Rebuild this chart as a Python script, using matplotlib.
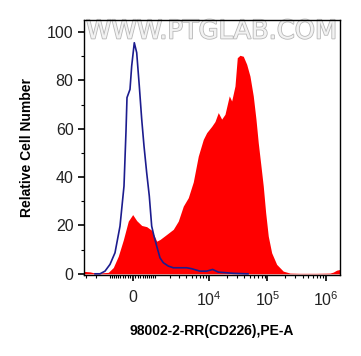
import numpy as np
import matplotlib
matplotlib.use("Agg")
import matplotlib.pyplot as plt
import matplotlib.patheffects as pe

plt.rcParams["font.family"] = ["Liberation Sans", "DejaVu Sans"]
plt.rcParams["mathtext.fontset"] = "custom"
plt.rcParams["mathtext.rm"] = "Liberation Sans"

# ===== data (x in display channels 0..256, y in % of max) =====
red_x = [0, 6, 12, 24.3, 29.3, 34.3, 39.3, 44.3, 48.7, 52.7, 57.7, 62.7, 67.7,
         72.7, 76, 82.7, 89.3, 94.3, 99.3, 104.3, 109.3, 114.3, 119.3, 122.7,
         127.7, 131, 134.3, 137.7, 141, 145.3, 147.7, 151, 153.3, 156, 159.3,
         162.7, 166, 169.3, 172, 174.3, 177, 179.3, 181.7, 184.3, 187.7, 192.7,
         199.3, 206, 216, 232.7, 246, 249.3, 252.7, 256]
red_y = [1.0, 0.8, 0.2, 0.6, 2.6, 7.3, 14.0, 21.8, 24.5, 22.0, 20.0, 19.5, 18.0,
         13.5, 14.2, 16.3, 18.4, 21.8, 28.0, 31.5, 38.0, 48.7, 55.6, 58.4,
         61.0, 63.0, 66.7, 64.0, 66.0, 73.6, 71.5, 77.7, 89.4, 90.4, 90.0,
         86.7, 81.8, 73.6, 64.0, 54.2, 44.6, 36.3, 25.3, 15.6, 8.7, 3.9,
         1.1, 0.3, 0.2, 0.2, 0.3, 0.7, 1.5, 1.8]

blue_x = [11, 16, 21, 26, 31, 36, 40, 42, 43, 46, 47.7, 50.3, 52.7, 55.3, 57.7,
          60, 62.7, 65.3, 67.7, 70, 72.7, 76, 79.3, 84.3, 89.3, 96, 102.7,
          107.7, 116, 122.7, 128.7, 134.3, 149.3, 162.7, 164]
blue_y = [0.0, 0.0, 1.1, 3.9, 8.7, 19.7, 36.3, 59.0, 72.9, 76.3, 86.0, 95.6,
          91.5, 77.7, 64.0, 52.9, 41.8, 32.2, 19.7, 15.6, 11.5, 6.6, 4.6, 3.2,
          2.5, 2.5, 2.5, 2.1, 1.1, 1.1, 1.8, 0.7, 0.2, 0.0, 0.0]

major_vals = [0, 1e4, 1e5, 1e6]
major_labels = ["0", r"$\mathregular{10^4}$", r"$\mathregular{10^5}$", r"$\mathregular{10^6}$"]
minor_vals = ([-k * 1000 for k in (1, 2, 3)] + [-k * 100 for k in range(1, 10)] +
              [k * 100 for k in range(1, 10)] + [k * 1000 for k in range(1, 10)] +
              [k * 1e4 for k in range(2, 10)] + [k * 1e5 for k in range(2, 10)] + [2e6])

# biexponential display: channel of value v
ZERO_CH, DECADE_CH, W = 48.7, 58.5, 994.0


def to_channel(v):
    return ZERO_CH + DECADE_CH * np.arcsinh(np.asarray(v, float) / W) / np.log(10)


fig = plt.figure(figsize=(3.61, 3.56), dpi=100)
ax = fig.add_axes([0.2327, 0.2275, 0.709, 0.7163])

ax.fill_between(red_x, 0, red_y, color="#ff0000", lw=0, zorder=2)
ax.plot(blue_x, blue_y, color="#1c1c8e", lw=1.2, zorder=3)

ax.set_xlim(0, 256)
ax.set_ylim(-0.5, 105)

ax.set_xticks(to_channel(major_vals))
ax.set_xticklabels(major_labels)
mv = to_channel(minor_vals)
ax.set_xticks(mv[(mv > 0) & (mv < 256)], minor=True)
ax.set_yticks([0, 20, 40, 60, 80, 100])
ax.set_yticks(np.arange(10, 105, 10), minor=True)

ax.tick_params(axis="both", which="major", length=4, width=1.2, labelsize=11.5, color="black",
               labelcolor="#222222")
ax.tick_params(axis="both", which="minor", length=2.5, width=0.8)
ax.tick_params(axis="x", which="major", pad=7)
for s in ax.spines.values():
    s.set_linewidth(1.0)

ax.set_ylabel("Relative Cell Number", fontsize=10, fontweight="bold", labelpad=9)
ax.set_xlabel("98002-2-RR(CD226),PE-A", fontsize=10, fontweight="bold", labelpad=11)

ax.text(0.5, 0.955, "WWW.PTGLAB.COM", transform=ax.transAxes, ha="center", va="center",
        fontsize=18.5, color="#f2f2f2", family="DejaVu Sans", zorder=1,
        path_effects=[pe.withStroke(linewidth=1.2, foreground="#b8b8b8")])

fig.savefig("out.png", dpi=100)
